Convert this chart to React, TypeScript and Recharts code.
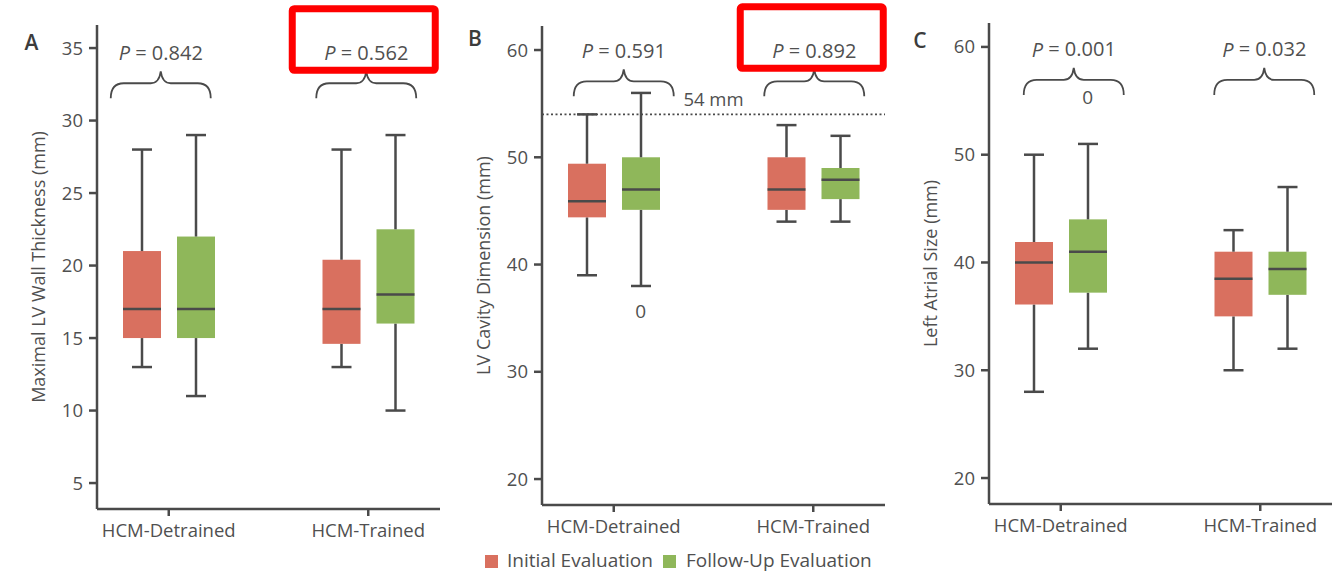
import React from "react";
import {
  ComposedChart,
  Bar,
  XAxis,
  YAxis,
  ReferenceLine,
  ReferenceDot,
} from "recharts";

const categories = ["HCM-Detrained", "HCM-Trained"];

// each box: [min, q1, median, q3, max]
const wallInitial = [
  [13, 15, 17, 21, 28],
  [13, 14.6, 17, 20.4, 28],
];
const wallFollowUp = [
  [11, 15, 17, 22, 29],
  [10, 16, 18, 22.5, 29],
];
const cavityInitial = [
  [39, 44.4, 45.9, 49.4, 54],
  [44, 45.1, 47, 50, 53],
];
const cavityFollowUp = [
  [38, 45.1, 47, 50, 56],
  [44, 46.1, 47.9, 49, 52],
];
const atrialInitial = [
  [28, 36.1, 40, 41.9, 50],
  [30, 35, 38.5, 41, 43],
];
const atrialFollowUp = [
  [32, 37.2, 41, 44, 51],
  [32, 37, 39.4, 41, 47],
];

const wallTicks = [5, 10, 15, 20, 25, 30, 35];
const cavityTicks = [20, 30, 40, 50, 60];
const atrialTicks = [20, 30, 40, 50, 60];

const wallPValues = ["0.842", "0.562"];
const cavityPValues = ["0.591", "0.892"];
const atrialPValues = ["0.001", "0.032"];

// outliers of the follow-up evaluation
const cavityOutliers = [{ category: "HCM-Detrained", value: 35.7 }];
const atrialOutliers = [{ category: "HCM-Detrained", value: 55.4 }];

const cavityCutoff = 54;

const RED = "#d9705f";
const GREEN = "#8fb75a";
const INK = "#4a4a4a";
const TEXT = "#505050";

const buildRows = (initial: number[][], followUp: number[][]) =>
  categories.map((name, i) => {
    const a = initial[i];
    const b = followUp[i];
    return {
      name,
      iBase: a[0],
      iLow: a[1] - a[0],
      iBox1: a[2] - a[1],
      iBox2: a[3] - a[2],
      iHigh: a[4] - a[3],
      fBase: b[0],
      fLow: b[1] - b[0],
      fBox1: b[2] - b[1],
      fBox2: b[3] - b[2],
      fHigh: b[4] - b[3],
    };
  });

const Nothing = () => <g />;

const WhiskerDown = (p: any) => {
  const cx = p.x + p.width / 2;
  const end = p.y + p.height;
  return (
    <g>
      <line x1={cx} x2={cx} y1={p.y} y2={end} stroke={INK} strokeWidth={2.5} />
      <line x1={cx - 10} x2={cx + 10} y1={end} y2={end} stroke={INK} strokeWidth={2.5} />
    </g>
  );
};

const WhiskerUp = (p: any) => {
  const cx = p.x + p.width / 2;
  return (
    <g>
      <line x1={cx} x2={cx} y1={p.y} y2={p.y + p.height} stroke={INK} strokeWidth={2.5} />
      <line x1={cx - 10} x2={cx + 10} y1={p.y} y2={p.y} stroke={INK} strokeWidth={2.5} />
    </g>
  );
};

const BoxLower = (p: any) => (
  <rect x={p.x} y={p.y} width={p.width} height={p.height} fill={p.fill} />
);

// upper half of the box, median drawn on its lower edge
const BoxUpper = (p: any) => (
  <g>
    <rect x={p.x} y={p.y} width={p.width} height={p.height} fill={p.fill} />
    <line
      x1={p.x}
      x2={p.x + p.width}
      y1={p.y + p.height}
      y2={p.y + p.height}
      stroke={INK}
      strokeWidth={2.5}
    />
  </g>
);

const Brace = ({ cx, cy, p, highlight }: any) => {
  const d = `M ${cx - 50} ${cy + 27} C ${cx - 50} ${cy + 17}, ${cx - 46} ${cy + 12}, ${cx - 37} ${cy + 12}
    L ${cx - 10} ${cy + 12} C ${cx - 4} ${cy + 12}, ${cx - 1} ${cy + 8}, ${cx} ${cy}
    C ${cx + 1} ${cy + 8}, ${cx + 4} ${cy + 12}, ${cx + 10} ${cy + 12}
    L ${cx + 37} ${cy + 12} C ${cx + 46} ${cy + 12}, ${cx + 50} ${cy + 17}, ${cx + 50} ${cy + 27}`;
  return (
    <g>
      <path d={d} fill="none" stroke={INK} strokeWidth={1.8} />
      <text
        x={cx}
        y={cy - 19}
        textAnchor="middle"
        dominantBaseline="central"
        fill={TEXT}
        fontSize={20}
      >
        <tspan fontStyle="italic">P</tspan>
        {" = " + p}
      </text>
      {highlight && (
        <rect
          x={cx - 74}
          y={cy - 62.5}
          width={143}
          height={61.5}
          rx={2}
          fill="none"
          stroke="#ff0000"
          strokeWidth={7}
        />
      )}
    </g>
  );
};

const AxisTitle = ({ viewBox, text }: any) => {
  const x = viewBox.x + 1;
  const y = viewBox.y + viewBox.height / 2;
  return (
    <text
      x={x}
      y={y}
      transform={`rotate(-90 ${x} ${y})`}
      textAnchor="middle"
      dominantBaseline="central"
      fill={TEXT}
      fontSize={18}
    >
      {text}
    </text>
  );
};

function Panel({
  left,
  width,
  top,
  bottom,
  domain,
  ticks,
  rows,
  title,
  pValues,
  highlighted,
  braceValue,
  braceShift,
  outliers,
  cutoff,
}: any) {
  const axisStyle = { stroke: INK, strokeWidth: 2.5 };
  return (
    <div style={{ position: "absolute", left, top: 0 }}>
      <ComposedChart
        width={width}
        height={573}
        data={rows}
        barSize={38}
        barGap={16}
        margin={{ top, right: width - 440, left: 37, bottom: 573 - bottom - 40 }}
      >
        <XAxis
          dataKey="name"
          type="category"
          interval={0}
          padding={{ left: -28, right: -28 }}
          height={40}
          tickSize={7}
          tickMargin={8}
          axisLine={axisStyle}
          tickLine={axisStyle}
          tick={{ fill: TEXT, fontSize: 18.5 }}
        />
        <YAxis
          type="number"
          domain={domain}
          allowDataOverflow
          ticks={ticks}
          width={60}
          tickSize={8}
          tickMargin={6}
          axisLine={axisStyle}
          tickLine={axisStyle}
          tick={{ fill: TEXT, fontSize: 18.5 }}
          label={(props: any) => <AxisTitle viewBox={props.viewBox} text={title} />}
        />
        {cutoff !== undefined && (
          <ReferenceLine
            y={cutoff}
            stroke={INK}
            strokeWidth={1.6}
            strokeDasharray="2 2.5"
            label={{ value: `${cutoff} mm`, position: "top", offset: 8, fill: TEXT, fontSize: 18.5 }}
          />
        )}
        <Bar dataKey="iBase" stackId="i" fill="none" shape={Nothing} isAnimationActive={false} />
        <Bar dataKey="iLow" stackId="i" fill={RED} shape={WhiskerDown} isAnimationActive={false} />
        <Bar dataKey="iBox1" stackId="i" fill={RED} shape={BoxLower} isAnimationActive={false} />
        <Bar dataKey="iBox2" stackId="i" fill={RED} shape={BoxUpper} isAnimationActive={false} />
        <Bar dataKey="iHigh" stackId="i" fill={RED} shape={WhiskerUp} isAnimationActive={false} />
        <Bar dataKey="fBase" stackId="f" fill="none" shape={Nothing} isAnimationActive={false} />
        <Bar dataKey="fLow" stackId="f" fill={GREEN} shape={WhiskerDown} isAnimationActive={false} />
        <Bar dataKey="fBox1" stackId="f" fill={GREEN} shape={BoxLower} isAnimationActive={false} />
        <Bar dataKey="fBox2" stackId="f" fill={GREEN} shape={BoxUpper} isAnimationActive={false} />
        <Bar dataKey="fHigh" stackId="f" fill={GREEN} shape={WhiskerUp} isAnimationActive={false} />
        {(outliers || []).map((o: any, i: number) => (
          <ReferenceDot
            key={"o" + i}
            x={o.category}
            y={o.value}
            r={0}
            ifOverflow="visible"
            shape={(s: any) => (
              <text
                x={s.cx + 27}
                y={s.cy}
                textAnchor="middle"
                dominantBaseline="central"
                fill={TEXT}
                fontSize={19}
              >
                0
              </text>
            )}
          />
        ))}
        {categories.map((c, i) => (
          <ReferenceDot
            key={c}
            x={c}
            y={braceValue}
            r={0}
            ifOverflow="visible"
            shape={(s: any) => (
              <Brace cx={s.cx + braceShift[i]} cy={s.cy} p={pValues[i]} highlight={highlighted[i]} />
            )}
          />
        ))}
      </ComposedChart>
    </div>
  );
}

export default function App() {
  return (
    <div
      style={{
        position: "absolute",
        left: 0,
        top: 0,
        width: 1336,
        height: 573,
        background: "#fff",
        fontFamily: "'Open Sans', sans-serif",
      }}
    >
      <Panel
        left={0}
        width={445}
        top={25}
        bottom={509}
        domain={[3.21, 36.59]}
        ticks={wallTicks}
        rows={buildRows(wallInitial, wallFollowUp)}
        title="Maximal LV Wall Thickness (mm)"
        pValues={wallPValues}
        highlighted={[false, true]}
        braceValue={33.4}
        braceShift={[-8, -2]}
      />
      <Panel
        left={445}
        width={445}
        top={26}
        bottom={505}
        domain={[17.58, 62.24]}
        ticks={cavityTicks}
        rows={buildRows(cavityInitial, cavityFollowUp)}
        title="LV Cavity Dimension (mm)"
        pValues={cavityPValues}
        highlighted={[false, true]}
        braceValue={58.2}
        braceShift={[10, 1]}
        outliers={cavityOutliers}
        cutoff={cavityCutoff}
      />
      <Panel
        left={892}
        width={444}
        top={23}
        bottom={504}
        domain={[17.59, 62.22]}
        ticks={atrialTicks}
        rows={buildRows(atrialInitial, atrialFollowUp)}
        title="Left Atrial Size (mm)"
        pValues={atrialPValues}
        highlighted={[false, false]}
        braceValue={58.05}
        braceShift={[13, 4]}
        outliers={atrialOutliers}
      />
      <svg
        width={1336}
        height={573}
        style={{ position: "absolute", left: 0, top: 0, pointerEvents: "none" }}
      >
        <text x={31.5} y={50} textAnchor="middle" fontWeight={600} fontSize={21} fill="#3c3c3c">
          A
        </text>
        <text x={475} y={46} textAnchor="middle" fontWeight={600} fontSize={21} fill="#3c3c3c">
          B
        </text>
        <text x={920} y={48} textAnchor="middle" fontWeight={600} fontSize={21} fill="#3c3c3c">
          C
        </text>
        <rect x={485} y={555} width={13} height={13} fill={RED} />
        <text x={507} y={567} fontSize={19} fill={TEXT}>
          Initial Evaluation
        </text>
        <rect x={663} y={555} width={13} height={13} fill={GREEN} />
        <text x={686} y={567} fontSize={19} fill={TEXT}>
          Follow-Up Evaluation
        </text>
      </svg>
    </div>
  );
}
